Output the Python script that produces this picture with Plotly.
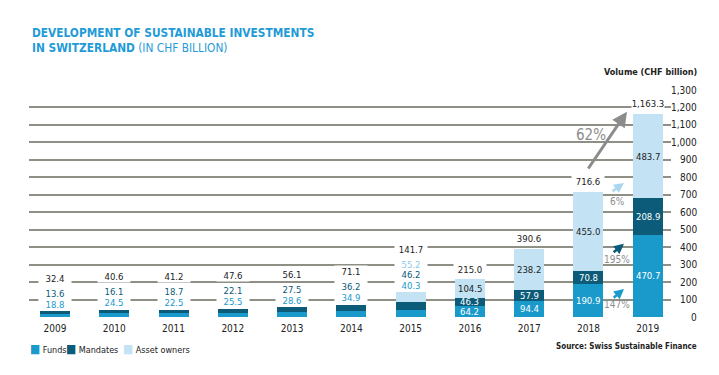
import plotly.graph_objects as go

# ---------------- data ----------------
years = [2009, 2010, 2011, 2012, 2013, 2014, 2015, 2016, 2017, 2018, 2019]
funds = [18.8, 24.5, 22.5, 25.5, 28.6, 34.9, 40.3, 64.2, 94.4, 190.9, 470.7]
mandates = [13.6, 16.1, 18.7, 22.1, 27.5, 36.2, 46.2, 46.3, 57.9, 70.8, 208.9]
asset_owners = [0.0, 0.0, 0.0, 0.0, 0.0, 0.0, 55.2, 104.5, 238.2, 455.0, 483.7]
totals = [32.4, 40.6, 41.2, 47.6, 56.1, 71.1, 141.7, 215.0, 390.6, 716.6, 1163.3]
y_ticks = [0, 100, 200, 300, 400, 500, 600, 700, 800, 900, 1000, 1100, 1200, 1300]
series_names = ["Funds", "Mandates", "Asset owners"]

# ---------------- style ----------------
FONT = "Liberation Sans Narrow, Arial Narrow, DejaVu Sans Condensed, sans-serif"
C_FUNDS = "#1a9acb"
C_MAND = "#0b5b79"
C_AO = "#c3e3f5"
C_AO_TXT = "#8ccaea"
C_GRID = "#8f8f86"
C_GRAY = "#8c8c8c"
C_TXT = "#222222"
TITLE_C = "#1f9bd7"
LBL = 9.5

# page body has an 8px margin; lay the figure out in page coordinates
OFF = 8
W, H = 703, 359
PLOT_L, PLOT_R, PLOT_T, PLOT_B = 29, 671, 90, 317  # page pixel box of the plot area
ML, MR, MT, MB = PLOT_L - OFF, W - (PLOT_R - OFF), PLOT_T - OFF, H - (PLOT_B - OFF)
PW, PH = PLOT_R - PLOT_L, PLOT_B - PLOT_T


def px_x(px):
    return (px - PLOT_L) / PW


def px_y(py):
    return (PLOT_B - py) / PH


fig = go.Figure()
for name, vals, col in zip(series_names, [funds, mandates, asset_owners], [C_FUNDS, C_MAND, C_AO]):
    fig.add_trace(go.Bar(x=years, y=vals, name=name, marker=dict(color=col, line=dict(width=0)),
                         width=0.506, showlegend=False, hoverinfo="x+y+name"))

ann = []


def lab(x, y, text, color, yshift=0, bg=None, size=LBL):
    d = dict(x=x, y=y, xref="x", yref="y", text=text,
             showarrow=False, yshift=yshift, yanchor="middle", xanchor="center",
             font=dict(family=FONT, size=size, color=color))
    if bg:
        d.update(bgcolor=bg, width=32, borderpad=0)
    ann.append(d)


for i, yr in enumerate(years):
    f, m, a, t = funds[i], mandates[i], asset_owners[i], totals[i]
    top = f + m + a
    if yr <= 2015:
        shift = 7
        lab(yr, top, f"{f:.1f}", C_FUNDS, shift, "white")
        shift += 11
        lab(yr, top, f"{m:.1f}", C_MAND, shift, "white")
        if a > 0:
            shift += 10
            lab(yr, top, f"{a:.1f}", C_AO_TXT, shift, "white")
        shift += 15
        lab(yr, top, f"{t:,.1f}", C_TXT, shift, "white")
    else:
        lab(yr, f / 2, f"{f:.1f}", "white")
        lab(yr, f + m / 2, f"{m:.1f}", "white")
        lab(yr, f + m + a / 2, f"{a:.1f}", C_TXT)
        lab(yr, top, f"{t:,.1f}", C_TXT, 10, "white")

# y tick labels on the right, right-aligned
for v in y_ticks:
    ann.append(dict(x=px_x(699), y=v, xref="paper", yref="y", text=f"{v:,}", showarrow=False,
                    xanchor="right", yanchor="middle", font=dict(family=FONT, size=10, color=C_TXT)))

ann.append(dict(x=px_x(699), y=px_y(72), xref="paper", yref="paper", text="<b>Volume (CHF billion)</b>",
                showarrow=False, xanchor="right", yanchor="middle",
                font=dict(family=FONT, size=9, color=C_TXT)))

# growth arrows 2018 -> 2019
i18, i19 = years.index(2018), years.index(2019)
g_total = (totals[i19] / totals[i18] - 1) * 100
g_ao = (asset_owners[i19] / asset_owners[i18] - 1) * 100
g_m = (mandates[i19] / mandates[i18] - 1) * 100
g_f = (funds[i19] / funds[i18] - 1) * 100

arrows = [
    # tail (x, y), head (x, y), color, width, head size, label text, label pos, font size
    ((2017.98, 842), (2018.65, 1176), C_GRAY, 3, 1.0, f"{g_total:.0f}%", (2018.05, 1042), 15),
    ((2018.38, 714), (2018.60, 768), "#a9d7f0", 2.5, 0.8, f"{g_ao:.0f}%", (2018.49, 664), 10),
    ((2018.40, 364), (2018.60, 420), C_MAND, 2.5, 0.8, f"{g_m:.0f}%", (2018.49, 330), 10),
    ((2018.40, 103), (2018.60, 161), C_FUNDS, 2.5, 0.8, f"{g_f:.0f}%", (2018.49, 69), 10),
]
for tail, head, col, wd, hs, txt, tpos, sz in arrows:
    ann.append(dict(x=head[0], y=head[1], ax=tail[0], ay=tail[1], xref="x", yref="y", axref="x", ayref="y",
                    text="", showarrow=True, arrowhead=2, arrowsize=hs, arrowwidth=wd, arrowcolor=col,
                    standoff=0, startstandoff=0))
    ann.append(dict(x=tpos[0], y=tpos[1], xref="x", yref="y", text=txt, showarrow=False,
                    xanchor="center", yanchor="middle", font=dict(family=FONT, size=sz, color=C_GRAY)))

# title
ann.append(dict(x=px_x(30), y=px_y(32.7), xref="paper", yref="paper",
                text="<b>DEVELOPMENT OF SUSTAINABLE INVESTMENTS</b>", showarrow=False,
                xanchor="left", yanchor="middle", font=dict(family=FONT, size=11.8, color=TITLE_C)))
ann.append(dict(x=px_x(30), y=px_y(48.3), xref="paper", yref="paper",
                text="<b>IN SWITZERLAND</b> (IN CHF BILLION)", showarrow=False,
                xanchor="left", yanchor="middle", font=dict(family=FONT, size=11.8, color=TITLE_C)))

# legend
leg_x = [28, 64, 121]
for name, col, lx in zip(series_names, [C_FUNDS, C_MAND, C_AO], leg_x):
    ann.append(dict(x=px_x(lx), y=px_y(349), xref="paper", yref="paper",
                    text=f"<span style='color:{col};font-size:12px'>■</span> {name}", showarrow=False,
                    xanchor="left", yanchor="middle", font=dict(family=FONT, size=9, color=C_TXT)))

# source
ann.append(dict(x=px_x(699), y=px_y(346), xref="paper", yref="paper",
                text="<b>Source: Swiss Sustainable Finance</b>", showarrow=False,
                xanchor="right", yanchor="middle", font=dict(family=FONT, size=8, color=C_TXT)))

fig.update_layout(
    width=W, height=H,
    margin=dict(l=ML, r=MR, t=MT, b=MB, pad=0),
    barmode="stack",
    plot_bgcolor="white", paper_bgcolor="white",
    annotations=ann,
    showlegend=False,
    font=dict(family=FONT, size=10, color=C_TXT),
    xaxis=dict(range=[2008.561, 2019.393], tickvals=years, ticktext=[str(y) for y in years],
               showgrid=False, zeroline=False, showline=False, ticks="", ticklabelstandoff=4,
               tickfont=dict(family=FONT, size=10, color=C_TXT)),
    yaxis=dict(range=[0, 1300], tickvals=y_ticks, showticklabels=False, showgrid=True,
               gridcolor=C_GRID, gridwidth=1.5, zeroline=False, showline=False, ticks=""),
)

fig.write_html("out.html")
